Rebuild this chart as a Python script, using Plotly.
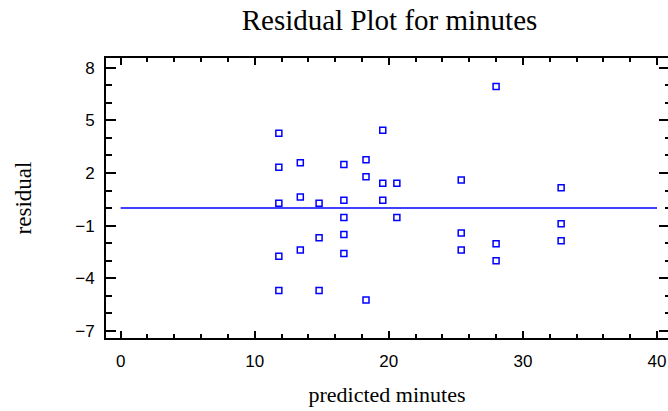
import plotly.graph_objects as go

# predicted values (x) and residuals (y)
predicted = [11.8, 11.8, 11.8, 11.8, 11.8,
             13.4, 13.4, 13.4,
             14.8, 14.8, 14.8,
             16.65, 16.65, 16.65, 16.65, 16.65,
             18.3, 18.3, 18.3,
             19.55, 19.55, 19.55,
             20.6, 20.6,
             25.4, 25.4, 25.4,
             28.0, 28.0, 28.0,
             32.85, 32.85, 32.85]
residual = [4.27, 2.32, 0.27, -2.75, -4.69,
            2.58, 0.63, -2.39,
            0.27, -1.69, -4.69,
            2.49, 0.44, -0.53, -1.50, -2.58,
            2.75, 1.78, -5.24,
            4.44, 1.41, 0.44,
            1.41, -0.53,
            1.60, -1.42, -2.39,
            6.93, -2.03, -3.00,
            1.16, -0.89, -1.86]

zero_line_x = [0, 40]
zero_line_y = [0, 0]

x_ticks = [0, 10, 20, 30, 40]
y_ticks = [-7, -4, -1, 2, 5, 8]

blue = "#0000FF"
serif = "Liberation Serif, Times New Roman, serif"
sans = "Liberation Sans, Arial, sans-serif"

W, H = 668, 411

fig = go.Figure()
fig.add_trace(go.Scatter(x=zero_line_x, y=zero_line_y, mode="lines",
                         line=dict(color=blue, width=1.5), hoverinfo="skip"))
fig.add_trace(go.Scatter(x=predicted, y=residual, mode="markers",
                         marker=dict(symbol="square-open", size=6, color=blue,
                                     line=dict(color=blue, width=1.5))))
# invisible trace on right-side axis so its ticks are drawn
fig.add_trace(go.Scatter(x=[None], y=[None], yaxis="y2", showlegend=False, hoverinfo="skip"))

yr = [-7.40, 8.55]
fig.update_layout(
    width=W, height=H,
    margin=dict(l=106, r=0, t=58, b=73, autoexpand=False),
    paper_bgcolor="white", plot_bgcolor="white",
    showlegend=False,
    title=dict(text="Residual Plot for minutes", x=389.5 / W, xref="container",
               y=1 - 20 / H, yref="container", xanchor="center", yanchor="middle",
               font=dict(family=serif, size=29, color="black")),
    xaxis=dict(range=[-1.09, 40.82], tickvals=x_ticks, ticks="inside", ticklen=7, tickwidth=2,
               tickcolor="black", showline=True, linecolor="black", linewidth=2, mirror="ticks",
               showgrid=False, zeroline=False, automargin=False, ticklabelstandoff=7,
               minor=dict(dtick=2, tick0=0, ticks="inside", ticklen=4, tickwidth=1.5, tickcolor="black"),
               tickfont=dict(family=sans, size=17, color="black"),
               title=dict(text="predicted minutes", font=dict(family=serif, size=22, color="black"),
                          standoff=16)),
    yaxis=dict(range=yr, tickvals=y_ticks, ticks="inside", ticklen=10, tickwidth=2,
               tickcolor="black", showline=True, linecolor="black", linewidth=2, mirror=False,
               showgrid=False, zeroline=False, automargin=False, ticklabelstandoff=6,
               minor=dict(dtick=1, tick0=-7, ticks="inside", ticklen=6, tickwidth=1.5, tickcolor="black"),
               tickfont=dict(family=sans, size=17, color="black"),
               title=dict(text="residual", font=dict(family=serif, size=23, color="black"),
                          standoff=37)),
    yaxis2=dict(range=yr, overlaying="y", side="right", anchor="x", tickvals=y_ticks,
                ticks="inside", ticklen=9, tickwidth=2, tickcolor="black", automargin=False,
                showline=False, showgrid=False, zeroline=False, showticklabels=False,
                minor=dict(dtick=1, tick0=-7, ticks="inside", ticklen=3, tickwidth=1.5, tickcolor="black")),
)

fig.write_html("out.html", config={"displayModeBar": False},
               post_script="document.body.style.margin='0';document.body.style.overflow='hidden';")
